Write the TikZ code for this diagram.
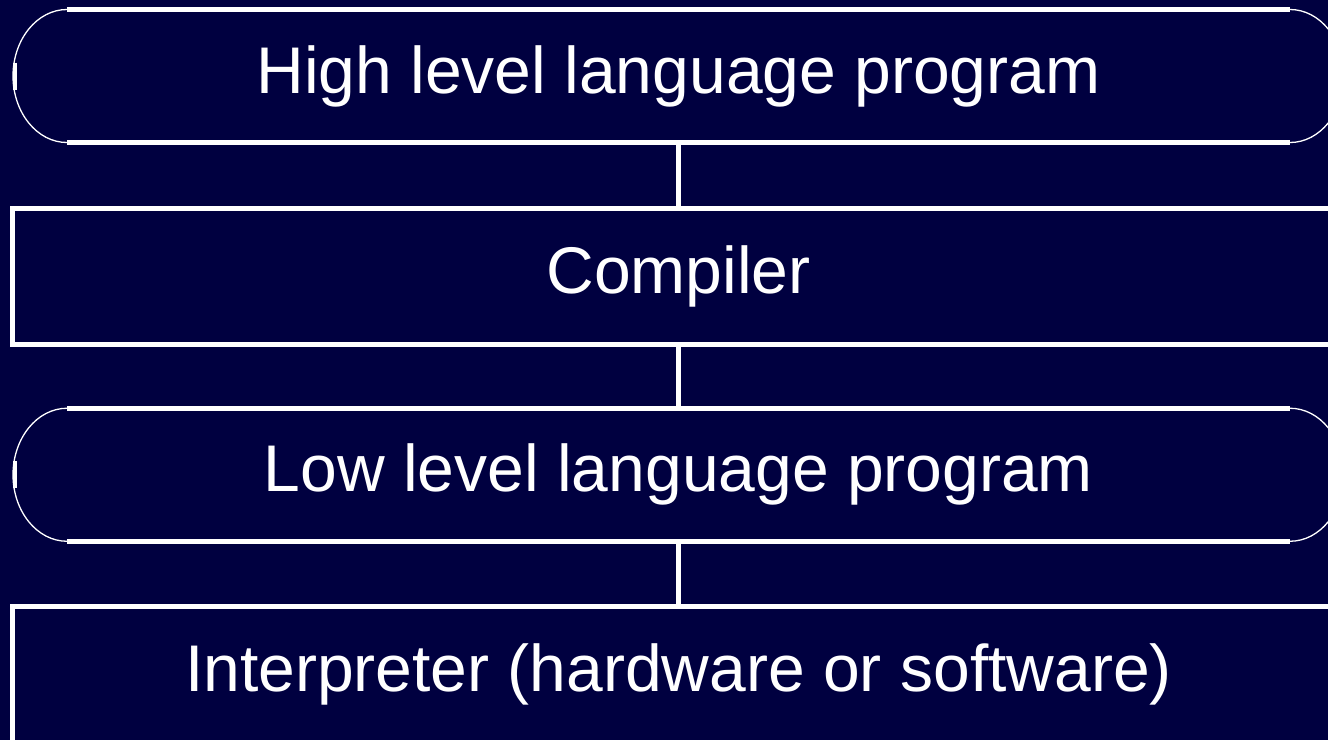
\documentclass[tikz,border=0pt]{standalone}
\usepackage{fontspec}
\setmainfont{Liberation Sans}
\usetikzlibrary{calc}
\definecolor{bgnavy}{RGB}{0,0,64}
\tikzset{
  boxtext/.style={text=white, font=\fontsize{66}{79}\selectfont, inner sep=0pt, outer sep=0pt},
  rectbox/.style={boxtext, draw=white, line width=5pt, minimum width=1332pt, minimum height=136pt},
  roundbox/.style={boxtext, draw=none, minimum width=1331pt, minimum height=133pt},
  thickline/.style={draw=white, line width=5pt},
  thinarc/.style={draw=white, line width=1.3pt},
  tick/.style={draw=white, line width=4pt},
  conn/.style={draw=white, line width=5pt}
}
\begin{document}
\begin{tikzpicture}[x=1pt,y=-1pt]
\useasboundingbox (0,0) rectangle (1328,740);
\fill[bgnavy] (0,0) rectangle (1328,740);
\clip (0,0) rectangle (1328,740);

% nodes
\node[roundbox] (high) at (678.5,76) {High level language program};
\node[rectbox] (comp) at (678.5,276) {Compiler};
\node[roundbox] (low) at (678.5,474.75) {Low level language program};
\node[rectbox] (interp) at (678.5,674) {Interpreter (hardware or software)};

% rounded boxes outlines
\foreach \n in {high,low}{
  \draw[thickline] ($(\n.north west)+(54,0)$) -- ($(\n.north east)+(-54,0)$);
  \draw[thickline] ($(\n.south west)+(54,0)$) -- ($(\n.south east)+(-54,0)$);
  \draw[thinarc] ($(\n.north west)+(54,0)$) arc[start angle=270, end angle=90, x radius=54, y radius=66.5];
  \draw[thinarc] ($(\n.north east)+(-54,0)$) arc[start angle=270, end angle=450, x radius=54, y radius=66.5];
  \draw[tick] ($(\n.west)+(2,-13.5)$) -- ($(\n.west)+(2,13.5)$);
}

% connectors
\draw[conn] (high.south) -- (comp.north);
\draw[conn] (comp.south) -- (low.north);
\draw[conn] (low.south) -- (interp.north);
\end{tikzpicture}
\end{document}
